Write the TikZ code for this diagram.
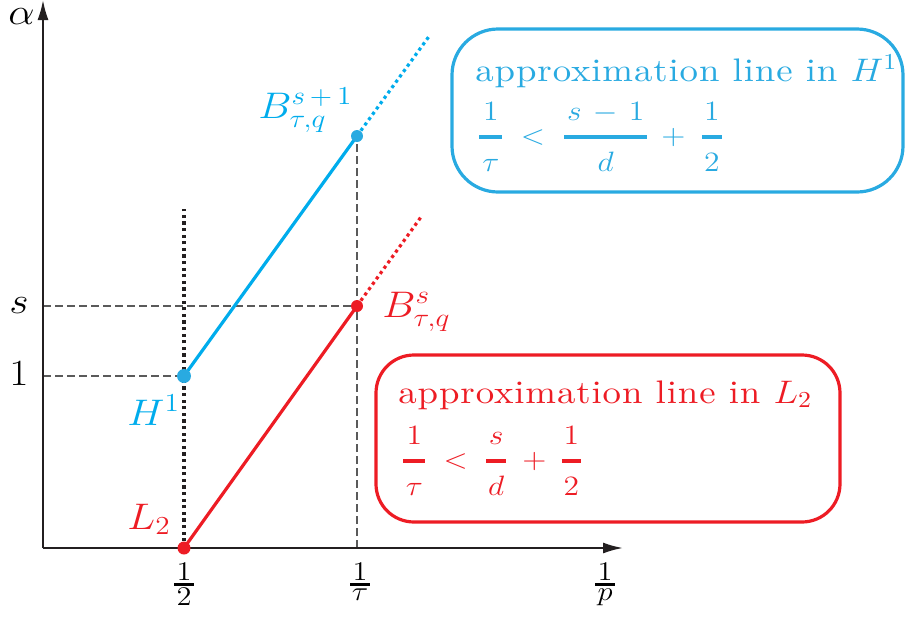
\documentclass[tikz,border=0pt]{standalone}
\usepackage{fix-cm}
\usepackage{amsmath}
\usepackage{fontspec}
\usepackage{graphicx}
\usetikzlibrary{arrows.meta}
\newfontfamily\boxfam{lmroman10-regular.otf}[LetterSpace=2.4]
\definecolor{cblue}{RGB}{0,172,236}
\definecolor{bblue}{RGB}{41,170,225}
\definecolor{cred}{RGB}{237,28,36}
\definecolor{axisc}{RGB}{35,31,32}
\definecolor{dashc}{RGB}{90,90,90}
\newcommand\sx[1]{\scalebox{1.13}[1]{#1}}
\newcommand\ffrac[3]{\genfrac{}{}{2pt}{0}{\makebox[#1]{$#2$}\rule[-1.5pt]{0pt}{1.5pt}}{\makebox[#1]{\rule{0pt}{10.3pt}$#3$}}}
\newcommand\tfr[1]{\sx{\nulldelimiterspace=0pt$\genfrac{}{}{1.3pt}{1}{\makebox[8.85pt]{$1$}}{\makebox[8.85pt]{$#1$}}$}}
\newcommand\boxfont{\boxfam\fontsize{16.3}{19}\selectfont}
\newcommand\formfont{\fontsize{14}{16}\selectfont\nulldelimiterspace=0pt}
\begin{document}
\begin{tikzpicture}[x=0.5pt,y=-0.5pt,
  axis/.style={draw=axisc, line width=1pt, -{Latex[length=10pt,width=5.5pt]}},
  guide/.style={draw=dashc, line width=0.6pt, dash pattern=on 4pt off 2pt},
  dotline/.style={line width=1.6pt, dash pattern=on 1.6pt off 1.7pt},
  seg/.style={line width=1.6pt},
  lbl/.style={inner sep=0pt, font=\fontsize{18.5}{22}\selectfont},
  tick/.style={inner sep=0pt, anchor=base, text=black, font=\fontsize{13.5}{16}\selectfont},
  boxtext/.style={inner sep=0pt, anchor=base west},
  box/.style={line width=1.6pt, inner sep=0pt}]
\useasboundingbox (0,0) rectangle (907,617);

% key points
\coordinate (O) at (43,548);
\coordinate (Xend) at (623,548);
\coordinate (Yend) at (43,0);
\coordinate (L2) at (184,548);
\coordinate (H1) at (184,376);
\coordinate (Bs) at (357,306);
\coordinate (Bs1) at (357,136);
\coordinate (Bs1e) at (430,35);
\coordinate (Bse) at (421,217);
\coordinate (Dtop) at (184,209);
\coordinate (Ys) at (43,306);
\coordinate (Y1) at (43,376);
\coordinate (Xt) at (357,548);

% boxes
\node[box, draw=bblue, rounded corners=23pt, minimum width=225.5pt, minimum height=81.5pt] (boxH) at (677.5,110.5) {};
\node[box, draw=cred, rounded corners=19pt, minimum width=232pt, minimum height=83.5pt] (boxL) at (608,438.5) {};

% guides
\draw[guide] (Ys) -- (Bs);
\draw[guide] (Y1) -- (H1);
\draw[guide] (Xt) -- (Bs1);

% axes
\draw[axis] (O) -- (Xend);
\draw[axis] (O) -- (Yend);

% dotted vertical
\draw[dotline, draw=axisc] (L2) -- (Dtop);

% approximation lines
\draw[seg, draw=cblue] (H1) -- (Bs1);
\draw[seg, draw=cred] (L2) -- (Bs);
\draw[dotline, draw=cblue] (Bs1) -- (Bs1e);
\draw[dotline, draw=cred] (Bs) -- (Bse);

% dots
\fill[bblue] (H1) circle[radius=7];
\fill[bblue] (Bs1) circle[radius=6];
\fill[cred] (L2) circle[radius=6.5];
\fill[cred] (Bs) circle[radius=6];

% axis labels
\node[lbl, anchor=base] (alpha) at (21.5,24) {\sx{$\alpha$}};
\node[lbl, anchor=base] (ls) at (19,313) {\sx{$s$}};
\node[lbl, anchor=base] (l1) at (19,385) {\sx{$1$}};
\node[tick] (t12) at (184,591) {\tfr{2}};
\node[tick] (ttau) at (360,591) {\tfr{\tau}};
\node[tick] (tp) at (605,591) {\tfr{p}};

% point labels
\node[lbl, anchor=base west, text=cblue] (lBs1) at (258,118) {\sx{$B^{s\mkern3mu+\mkern3mu1}_{\tau,q}$}};
\node[lbl, anchor=base west, text=cred] (lBs) at (382,317) {\sx{$B^{s}_{\tau,q}$}};
\node[lbl, anchor=base west, text=cblue] (lH1) at (127,425) {\sx{$H^{1}$}};
\node[lbl, anchor=base west, text=cred] (lL2) at (127,529) {\sx{$L_{2}$}};

% box texts
\node[boxtext, text=bblue] (tH) at (475,81) {\sx{\boxfont approximation line in $H^1$}};
\node[boxtext, text=bblue] (fH) at (479,144) {\sx{\formfont$\ffrac{10.2pt}{1}{\tau}\hspace{8.1pt}{<}\hspace{8.55pt}\ffrac{36.7pt}{s\hspace{5pt}{-}\hspace{5pt}1}{d}\hspace{6.33pt}{+}\hspace{7.2pt}\ffrac{8.85pt}{1}{2}$}};
\node[boxtext, text=cred] (tL) at (398,403) {\sx{\boxfont approximation line in $L_2$}};
\node[boxtext, text=cred] (fL) at (403,468) {\sx{\formfont$\ffrac{9.73pt}{1}{\tau}\hspace{8.1pt}{<}\hspace{8.1pt}\ffrac{8.85pt}{s}{d}\hspace{7.2pt}{+}\hspace{6.77pt}\ffrac{8.4pt}{1}{2}$}};
\end{tikzpicture}
\end{document}
